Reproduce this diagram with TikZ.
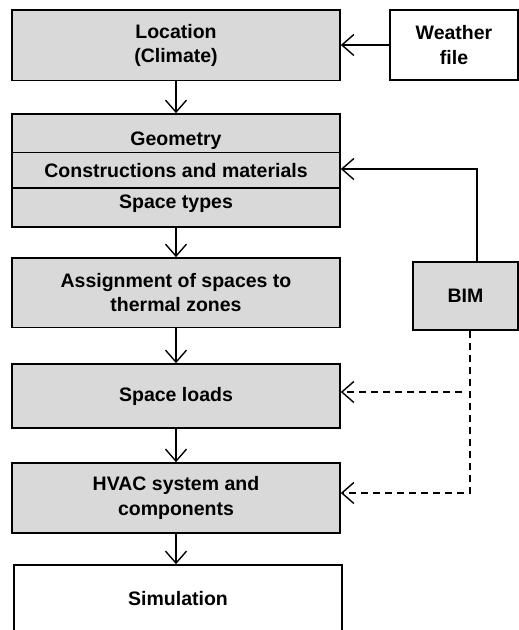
\documentclass[tikz,border=0pt]{standalone}
\usepackage{fontspec}
\setmainfont{Liberation Sans}
\usetikzlibrary{arrows.meta}
\begin{document}
\begin{tikzpicture}[x=1pt,y=-1pt,
  box/.style={draw=black, line width=1.6pt, fill=black!15, inner sep=0pt, align=center,
    font=\bfseries\fontsize{19.5}{24.5}\selectfont},
  wbox/.style={box, fill=white},
  lbl/.style={inner sep=0pt, anchor=base, font=\bfseries\fontsize{19.5}{24.5}\selectfont},
  arr/.style={line width=1.4pt, -{Straight Barb[length=12pt,width=21pt]}},
  darr/.style={arr, dash pattern=on 7pt off 5pt}]
\useasboundingbox (0,0) rectangle (519,630);
\clip (0,0) rectangle (519,630);
% boxes
\node[box, minimum width=328pt, minimum height=70.5pt] (loc) at (176,45.25) {Location\\(Climate)};
\node[wbox, minimum width=128pt, minimum height=70pt] (wea) at (454,45) {Weather\\file};
\node[box, minimum width=328pt, minimum height=38.5pt] (geo) at (176,133.25) {};
\node[box, minimum width=328pt, minimum height=35.5pt] (cons) at (176,170.25) {};
\node[box, minimum width=328pt, minimum height=39pt] (spt) at (176,207.5) {};
\node[lbl] (geot) at (176,145) {Geometry};
\node[lbl] (const) at (176,177) {Constructions and materials};
\node[lbl] (sptt) at (176,208) {Space types};
\node[box, minimum width=328pt, minimum height=69.5pt] (asg) at (176,292.75) {Assignment of spaces to\\thermal zones};
\node[box, minimum width=328pt, minimum height=64pt] (sl) at (176,396) {Space loads};
\node[box, minimum width=328pt, minimum height=70pt] (hvac) at (176,498) {HVAC system and\\components};
\node[wbox, minimum width=328pt, minimum height=68pt] (sim) at (178,599) {Simulation};
\node[box, minimum width=105pt, minimum height=68pt] (bim) at (465.5,296) {BIM};
% connectors
\draw[arr] (wea.west) -- (wea.west -| loc.east);
\draw[arr] (loc.south) -- (geo.north);
\draw[arr] (spt.south) -- (asg.north);
\draw[arr] (asg.south) -- (sl.north);
\draw[arr] (sl.south) -- (hvac.north);
\draw[arr] (hvac.south) -- (hvac.south |- sim.north);
\coordinate (c1) at (477,169);
\draw[arr] (bim.north -| c1) -- (c1) -- (c1 -| cons.east);
\coordinate (d1) at (462,392);
\coordinate (d2) at (470,493);
\draw[darr] (d1) -- (d1 -| sl.east);
\draw[darr] (bim.south -| d2) -- (d2) -- (d2 -| hvac.east);
\end{tikzpicture}
\end{document}
